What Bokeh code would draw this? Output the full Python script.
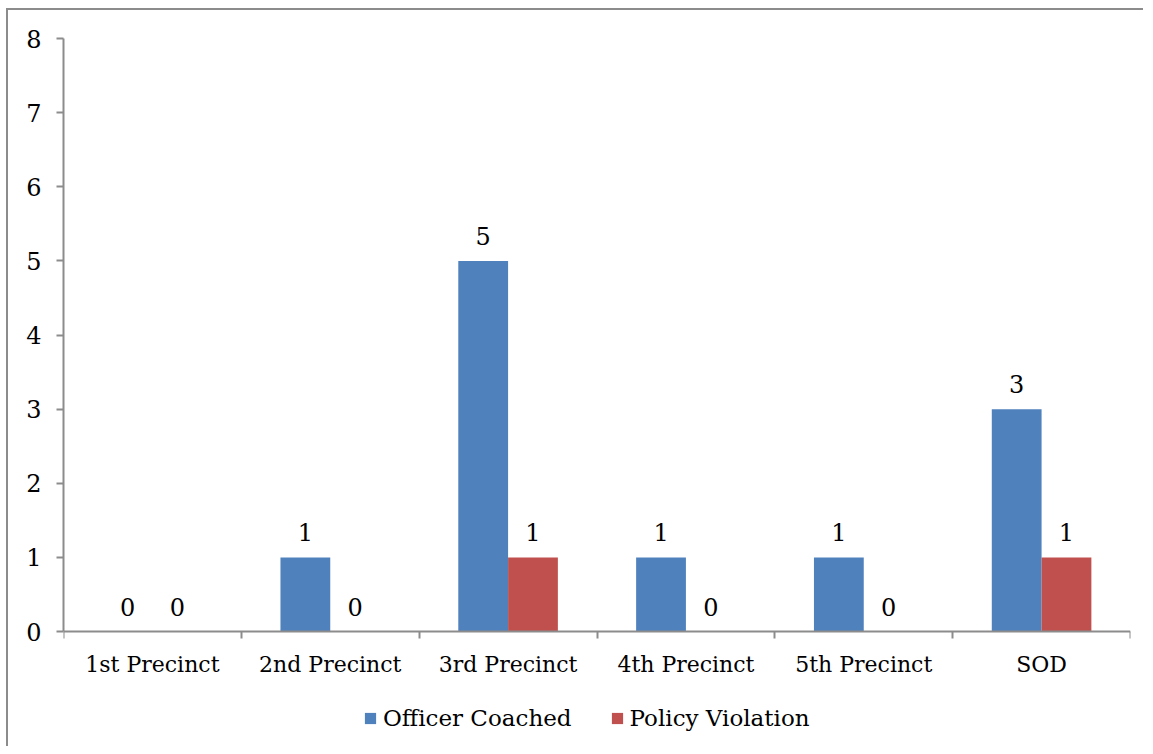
from bokeh.plotting import figure
from bokeh.models import FixedTicker, Legend, LegendItem, ColumnDataSource
from bokeh.transform import dodge
from bokeh.core.properties import value
from bokeh.embed import file_html
from bokeh.resources import INLINE

categories = ["1st Precinct", "2nd Precinct", "3rd Precinct", "4th Precinct", "5th Precinct", "SOD"]
officer_coached = [0, 1, 5, 1, 1, 3]
policy_violation = [0, 0, 1, 0, 0, 1]
y_ticks = [0, 1, 2, 3, 4, 5, 6, 7, 8]

FONT = "DejaVu Serif"
BLUE = "#4F81BD"
RED = "#C0504D"
AXIS = "#8C8C8C"

centers = [i + 0.5 for i in range(len(categories))]
src = ColumnDataSource(dict(
    x=centers,
    oc=officer_coached,
    pv=policy_violation,
    oc_t=[str(v) for v in officer_coached],
    pv_t=[str(v) for v in policy_violation],
))

# frame extends below zero to leave room for the category labels and legend
p = figure(width=1137, height=738, output_backend="svg", toolbar_location=None,
           x_range=(0, len(categories)), y_range=(-1.524, 8),
           min_border_left=55, min_border_right=15, min_border_top=28, min_border_bottom=4)
p.styles = {"border-left": "2px solid #8C8C8C", "border-top": "2px solid #8C8C8C",
            "margin-left": "6px", "margin-top": "8px"}
p.outline_line_color = None
p.grid.visible = False
p.background_fill_color = "white"
p.border_fill_color = "white"

b1 = p.vbar(x=dodge("x", -0.14), top="oc", width=0.28, source=src, fill_color=BLUE, line_color=None)
b2 = p.vbar(x=dodge("x", 0.14), top="pv", width=0.28, source=src, fill_color=RED, line_color=None)

for col, off in (("oc", -0.14), ("pv", 0.14)):
    p.text(x=dodge("x", off), y=col, text=col + "_t", source=src, y_offset=-16,
           text_align="center", text_baseline="bottom",
           text_font=value(FONT), text_font_size="24px", text_color="black")

# x axis (drawn at value 0)
xa = p.xaxis[0]
xa.fixed_location = 0
xa.ticker = FixedTicker(ticks=centers, minor_ticks=list(range(len(categories) + 1)))
xa.major_label_overrides = {c: lab for c, lab in zip(centers, categories)}
xa.major_tick_in = 0
xa.major_tick_out = 0
xa.minor_tick_in = 0
xa.minor_tick_out = 7
xa.minor_tick_line_color = AXIS
xa.minor_tick_line_width = 2
xa.axis_line_color = AXIS
xa.axis_line_width = 2
xa.major_label_standoff = 13
xa.major_label_text_font = FONT
xa.major_label_text_font_size = "22px"
xa.major_label_text_color = "black"

# y axis
ya = p.yaxis[0]
ya.bounds = (0, 8)
ya.ticker = FixedTicker(ticks=y_ticks)
ya.major_tick_in = 0
ya.major_tick_out = 7
ya.minor_tick_line_color = None
ya.major_tick_line_color = AXIS
ya.major_tick_line_width = 2
ya.axis_line_color = AXIS
ya.axis_line_width = 2
ya.major_label_standoff = 15
ya.major_label_text_font = FONT
ya.major_label_text_font_size = "24px"
ya.major_label_text_color = "black"

legend = Legend(items=[LegendItem(label="Officer Coached", renderers=[b1]),
                       LegendItem(label="Policy Violation", renderers=[b2])],
                orientation="horizontal", location=(300, 13),
                glyph_width=14, glyph_height=14, label_standoff=6, spacing=38,
                padding=0, margin=0, border_line_color=None, background_fill_alpha=0,
                label_text_font=FONT, label_text_font_size="23px", label_text_color="black")
p.add_layout(legend)

open("out.html", "w").write(file_html(p, INLINE))
